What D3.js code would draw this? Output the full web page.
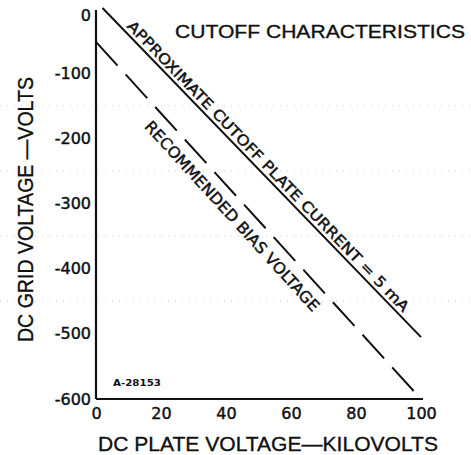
<!DOCTYPE html>
<html lang="en">
<head>
<meta charset="UTF-8">
<title>Cutoff Characteristics</title>
<style>
    body { margin: 0; background: #fff; }
    svg { display: block; }
    .tick text { font-family: "DejaVu Sans", sans-serif; font-size: 16px; fill: #111; stroke: #111; stroke-width: 0.45px; }
    .domain { stroke: #111; stroke-width: 2.2px; }
    .lbl { font-family: "DejaVu Sans", sans-serif; fill: #111; stroke: #111; stroke-width: 0.45px; }
    .ttl { fill: #111; stroke: #111; stroke-width: 0.35px; }
</style>
</head>
<body>
<svg id="chart" width="471" height="455"></svg>
<script src="https://d3js.org/d3.v7.min.js"></script>
<script>
// plate voltage (kV) / grid voltage (V)
const xTicks = [0, 20, 40, 60, 80, 100];
const yTicks = [0, -100, -200, -300, -400, -500, -600];
const gridLevels = [-150, -250, -350, -450];

const cutoffKv = [2, 100];
const cutoffV = [0, -505];
const biasKv = [0, 100];
const biasV = [-52, -600];

const svg = d3.select("#chart");

const x = d3.scaleLinear().domain([0, 100]).range([96, 421]);
const y = d3.scaleLinear().domain([-600, 0]).range([399, 8]);

// faint leftover grid from the scan
svg.selectAll(".grid")
    .data(gridLevels)
    .enter().append("line")
    .attr("x1", 0).attr("x2", 471)
    .attr("y1", d => y(d)).attr("y2", d => y(d))
    .attr("stroke", "#cfcfcf")
    .attr("stroke-width", 1)
    .attr("stroke-dasharray", "1,6");

const yAxis = svg.append("g")
    .attr("transform", `translate(${x(0)},0)`)
    .call(d3.axisLeft(y).tickValues(yTicks).tickSize(0).tickPadding(5)
        .tickFormat(d => d === 0 ? "0" : "-" + Math.abs(d)));
yAxis.selectAll(".tick text").filter(d => d === 0).attr("dy", "0.75em");

const xAxis = svg.append("g")
    .attr("transform", `translate(0,${y(-600)})`)
    .call(d3.axisBottom(x).tickValues(xTicks).tickSize(0).tickPadding(9));
xAxis.select(".domain").attr("d", `M${x(0)},0H${x(100) + 2}`);
yAxis.select(".domain").attr("d", `M0,${y(-600)}V${y(0) + 2}`);

const line = d3.line().x(d => x(d[0])).y(d => y(d[1]));

const cutoff = cutoffKv.map((k, i) => [k, cutoffV[i]]);
const bias = biasKv.map((k, i) => [k, biasV[i]]);

svg.append("path")
    .attr("d", line(cutoff))
    .attr("fill", "none").attr("stroke", "#111").attr("stroke-width", 2);

svg.append("path")
    .attr("d", line(bias))
    .attr("fill", "none").attr("stroke", "#111").attr("stroke-width", 2)
    .attr("stroke-dasharray", "32,12");

// label placed along a line, offset in the line's own frame
function alongLabel(pts, text, start, off, len, size) {
    const p0 = [x(pts[0][0]), y(pts[0][1])];
    const p1 = [x(pts[1][0]), y(pts[1][1])];
    const ang = Math.atan2(p1[1] - p0[1], p1[0] - p0[0]) * 180 / Math.PI;
    svg.append("text")
        .attr("class", "lbl")
        .attr("transform", `translate(${p0[0]},${p0[1]}) rotate(${ang})`)
        .attr("x", start).attr("y", off)
        .attr("font-size", size)
        .attr("textLength", len)
        .attr("lengthAdjust", "spacingAndGlyphs")
        .text(text);
}

alongLabel(cutoff, "APPROXIMATE CUTOFF PLATE CURRENT = 5 mA", 30, -4, 398, 14.5);
alongLabel(bias, "RECOMMENDED BIAS VOLTAGE", 95, 22, 251, 15.5);

svg.append("text")
    .attr("class", "ttl")
    .attr("x", 175).attr("y", 38)
    .attr("font-family", "Liberation Sans, sans-serif")
    .attr("font-size", 18)
    .attr("textLength", 290)
    .attr("lengthAdjust", "spacingAndGlyphs")
    .text("CUTOFF CHARACTERISTICS");

svg.append("text")
    .attr("class", "ttl")
    .attr("x", 98).attr("y", 451)
    .attr("font-family", "Liberation Sans, sans-serif")
    .attr("font-size", 21)
    .attr("textLength", 340)
    .attr("lengthAdjust", "spacingAndGlyphs")
    .text("DC PLATE VOLTAGE\u2014KILOVOLTS");

svg.append("text")
    .attr("class", "ttl")
    .attr("transform", "translate(33,342) rotate(-90)")
    .attr("font-family", "Liberation Sans, sans-serif")
    .attr("font-size", 22)
    .attr("textLength", 265)
    .attr("lengthAdjust", "spacingAndGlyphs")
    .text("DC GRID VOLTAGE \u2014VOLTS");

svg.append("text")
    .attr("x", 113).attr("y", 386)
    .attr("font-family", "DejaVu Sans, sans-serif")
    .attr("font-size", 9.5)
    .attr("font-weight", "bold")
    .attr("textLength", 48)
    .attr("lengthAdjust", "spacingAndGlyphs")
    .attr("fill", "#111")
    .text("A-28153");
</script>
</body>
</html>
